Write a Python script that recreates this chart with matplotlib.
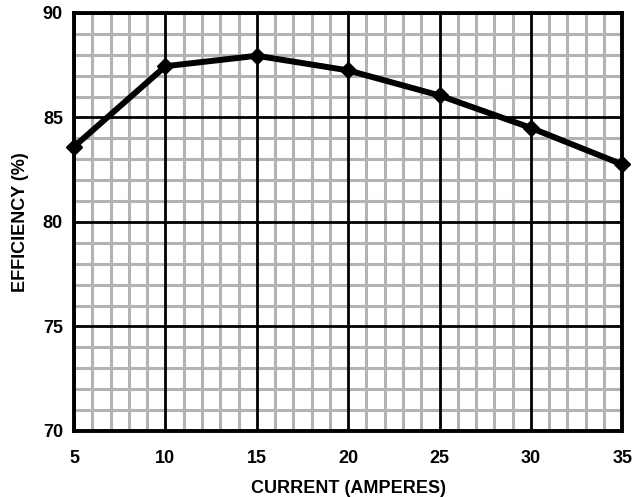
import matplotlib
matplotlib.use("Agg")
import matplotlib.pyplot as plt
from matplotlib.ticker import MultipleLocator

current = [5, 10, 15, 20, 25, 30, 35]
efficiency = [83.6, 87.45, 87.95, 87.25, 86.05, 84.5, 82.75]
xticks = [5, 10, 15, 20, 25, 30, 35]
yticks = [70, 75, 80, 85, 90]

plt.rcParams['font.family'] = ['Liberation Sans', 'DejaVu Sans']
fig = plt.figure(figsize=(6.33, 4.97), dpi=100)
ax = fig.add_axes([0.117, 0.133, 0.866, 0.841])
ax.set_xlim(5, 35)
ax.set_ylim(70, 90)
ax.set_xticks(xticks)
ax.set_yticks(yticks)
ax.xaxis.set_minor_locator(MultipleLocator(1))
ax.yaxis.set_minor_locator(MultipleLocator(1))
ax.set_axisbelow(True)
ax.grid(which='minor', color='#b3b3b3', linewidth=2.2)
ax.grid(which='major', visible=False)
ax.vlines(xticks, 70, 90, colors='black', linewidth=2.0, zorder=1)
ax.hlines(yticks, 5, 35, colors='black', linewidth=2.0, zorder=1)
ax.tick_params(which='both', length=0, labelsize=13)
ax.tick_params(axis='x', pad=14)
ax.tick_params(axis='y', pad=8)
for lab in ax.get_xticklabels() + ax.get_yticklabels():
    lab.set_fontweight('bold')
for s in ax.spines.values():
    s.set_linewidth(2.8)
    s.set_zorder(2)
ax.plot(current, efficiency, color='black', linewidth=4.3, marker='D', markersize=8.5, zorder=3, clip_on=False)
ax.set_xlabel('CURRENT (AMPERES)', fontweight='bold', fontsize=13, labelpad=9)
ax.set_ylabel('EFFICIENCY (%)', fontweight='bold', fontsize=13, labelpad=10)
fig.savefig('out.png', dpi=100)
